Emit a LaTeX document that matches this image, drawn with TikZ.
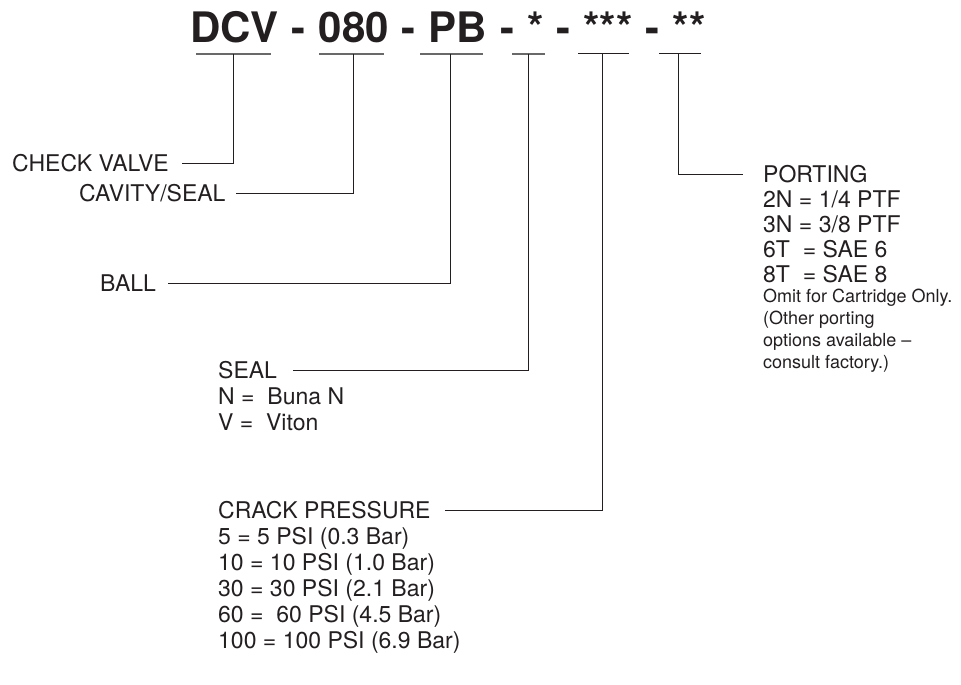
\documentclass[tikz,border=0pt]{standalone}
\usepackage{fontspec}
\setmainfont{TeX Gyre Heros}
\usetikzlibrary{positioning}
\definecolor{ink}{RGB}{35,31,32}
\definecolor{rulegray}{RGB}{105,105,105}

\begin{document}
\begin{tikzpicture}[x=1pt,y=-1pt,
    lbl/.style={anchor=west,inner sep=0pt,text height=16.5pt,text depth=0pt,
      font=\fontsize{23}{26}\selectfont,text=ink},
    sml/.style={anchor=west,inner sep=0pt,text height=13pt,text depth=0pt,
      font=\fontsize{18}{21}\selectfont,text=ink},
    ln/.style={draw=ink,line width=0.9pt}]
    \useasboundingbox (0,0) rectangle (961,685);
    % part number
    \node[anchor=base west,inner sep=0pt,font=\fontsize{42}{42}\selectfont\bfseries,text=ink]
      (code) at (190,43) {\spaceskip=0.31em DCV - 080 - PB - * - *** - **};
    \foreach \i/\a/\b/\m/\col/\w in {
      1/196/271/233/rulegray/1.6,
      2/319/384/353/rulegray/1.6,
      3/420/483/450/rulegray/1.6,
      4/512/545/528/rulegray/1.6,
      5/578/629/602/ink/1.0,
      6/659/701/678/ink/1.0}{
      \draw[\col,line width=\w pt] (\a,54) -- (\b,54);
      \coordinate (t\i) at (\m,54);
    }
    % labels
    \node[lbl] (cv) at (12,163) {CHECK VALVE};
    \node[lbl] (cav) at (79,193) {CAVITY/SEAL};
    \node[lbl] (ball) at (100,283) {BALL};
    \node[lbl] (seal) at (218,370) {SEAL};
    \foreach \k/\t in {1/{N = ~Buna N}, 2/{V = ~Viton}}
      \node[lbl] (seal\k) at (218,{370+26*\k}) {\t};
    \node[lbl] (crk) at (218,510) {CRACK PRESSURE};
    \foreach \k/\t in {
      1/{5 = 5 PSI (0.3 Bar)},
      2/{10 = 10 PSI (1.0 Bar)},
      3/{30 = 30 PSI (2.1 Bar)},
      4/{60 = ~60 PSI (4.5 Bar)},
      5/{100 = 100 PSI (6.9 Bar)}}
      \node[lbl] (crk\k) at (218,{510+26*\k}) {\t};
    \node[lbl] (port) at (763,174) {PORTING};
    \foreach \k/\t in {1/{2N = 1/4 PTF}, 2/{3N = 3/8 PTF}, 3/{6T~~= SAE 6}, 4/{8T~~= SAE 8}}
      \node[lbl] (port\k) at (763,{174+25*\k}) {\t};
    \foreach \k/\t in {
      1/{Omit for Cartridge Only.},
      2/{(Other porting},
      3/{options available --},
      4/{consult factory.)}}
      \node[sml] (note\k) at (763,{274+22*\k}) {\t};
    % leaders
    \draw[ln] (t1) |- ([xshift=13pt]cv.east);
    \draw[ln] (t2) |- ([xshift=10pt]cav.east);
    \draw[ln] (t3) |- ([xshift=12pt]ball.east);
    \draw[ln] (t4) |- ([xshift=16pt]seal.east);
    \draw[ln] (t5) |- ([xshift=14pt]crk.east);
    \draw[ln] (t6) |- ([xshift=-20pt]port.west);
\end{tikzpicture}
\end{document}
